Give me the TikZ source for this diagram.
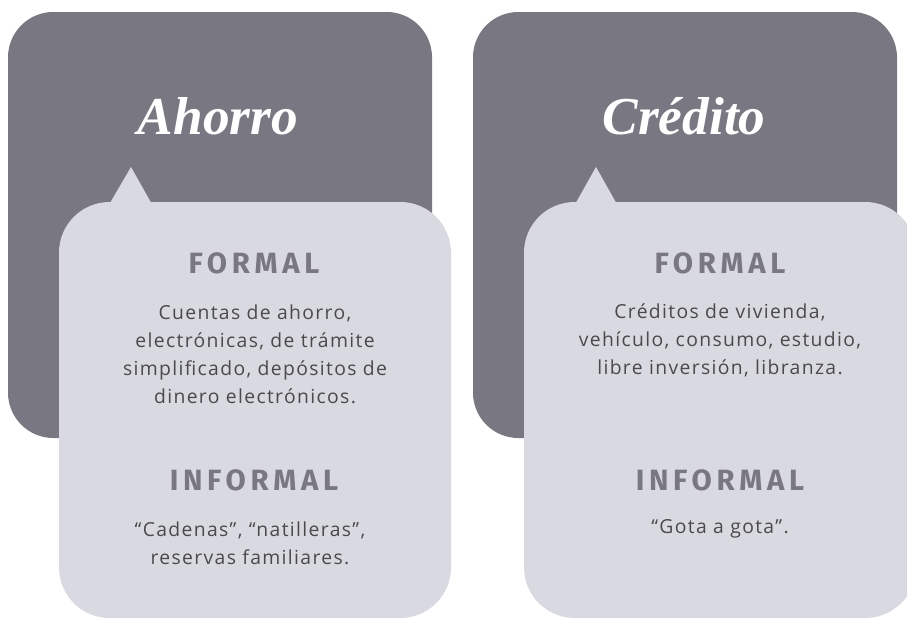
\documentclass[tikz,border=0pt]{standalone}
\usepackage{fontspec}
\setmainfont{Liberation Serif}
\newfontfamily\cardfont[LetterSpace=7]{Open Sans}
\newfontfamily\headfont[LetterSpace=16]{Fira Sans}
\definecolor{darkcard}{HTML}{797882}
\definecolor{lightcard}{HTML}{D9D9E1}
\definecolor{bodytext}{HTML}{4A4A4C}
\begin{document}
\begin{tikzpicture}[x=0.75pt,y=-0.75pt,
  backcard/.style={fill=darkcard,rounded corners=34pt},
  frontcard/.style={fill=lightcard,rounded corners=38pt},
  cardtitle/.style={text=white,inner sep=0pt,font=\bfseries\itshape\fontsize{40}{44}\selectfont},
  cardhead/.style={text=darkcard,inner sep=0pt,font=\headfont\bfseries\fontsize{22}{26}\selectfont},
  cardbody/.style={text=bodytext,inner sep=0pt,align=center,font=\cardfont\fontsize{14.5}{21}\selectfont}]
\useasboundingbox (0,0) rectangle (907,618);
\clip (0,0) rectangle (907,618);

\fill[backcard] (8,12) rectangle (432,438);
\fill[backcard] (473,12) rectangle (897,438);

\fill[lightcard] (131,167) -- (103,215) -- (158,215) -- cycle;
\fill[lightcard] (596,167) -- (569,215) -- (623,215) -- cycle;

\fill[frontcard] (59,202) rectangle (451,618);
\fill[frontcard] (524,202) rectangle (916,618);

\node[cardtitle] (ahorro) at (218,116) {Ahorro};
\node[cardtitle] (credito) at (684,116) {Crédito};

\node[cardhead] (formalA) at (254,263) {FORMAL};
\node[cardhead] (informalA) at (254,480) {INFORMAL};
\node[cardhead] (formalC) at (720,263) {FORMAL};
\node[cardhead] (informalC) at (720,480) {INFORMAL};

\node[cardbody] (formalAtext) at (255,354) {Cuentas de ahorro,\\electrónicas, de trámite\\simplificado, depósitos de\\dinero electrónicos.};
\node[cardbody] (informalAtext) at (250,543) {“Cadenas”, “natilleras”,\\reservas familiares.};
\node[cardbody] (formalCtext) at (720,340) {Créditos de vivienda,\\vehículo, consumo, estudio,\\libre inversión, libranza.};
\node[cardbody] (informalCtext) at (720,529) {“Gota a gota”.};
\end{tikzpicture}
\end{document}
